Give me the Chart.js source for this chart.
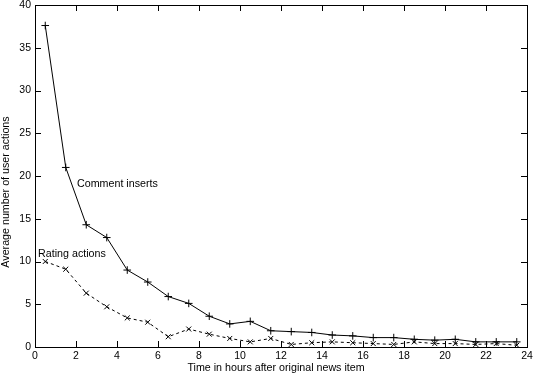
<!DOCTYPE html>
<html lang="en">
<head>
    <meta charset="UTF-8">
    <title>User actions after news item</title>
    <script src="https://cdn.jsdelivr.net/npm/chart.js"></script>
    <style>
        html, body { margin: 0; padding: 0; background: white; }
        #wrap { width: 537px; height: 380px; }
    </style>
</head>
<body>
    <div id="wrap"><canvas id="chart" width="537" height="380"></canvas></div>
    <script>
        // hours after the news item (bin centres)
        const hours = [0.5, 1.5, 2.5, 3.5, 4.5, 5.5, 6.5, 7.5, 8.5, 9.5, 10.5, 11.5,
                       12.5, 13.5, 14.5, 15.5, 16.5, 17.5, 18.5, 19.5, 20.5, 21.5, 22.5, 23.5];
        const commentInserts = [37.6, 21.0, 14.3, 12.8, 9.0, 7.6, 5.9, 5.1, 3.6, 2.7, 3.0, 1.9,
                                1.8, 1.7, 1.4, 1.3, 1.1, 1.1, 0.9, 0.8, 0.9, 0.6, 0.6, 0.6];
        const ratingActions = [10.0, 9.1, 6.3, 4.7, 3.4, 2.9, 1.2, 2.1, 1.5, 1.0, 0.6, 1.0,
                               0.3, 0.5, 0.6, 0.5, 0.4, 0.3, 0.6, 0.4, 0.4, 0.3, 0.4, 0.2];
        const xTicks = [0, 2, 4, 6, 8, 10, 12, 14, 16, 18, 20, 22, 24];
        const yTicks = [0, 5, 10, 15, 20, 25, 30, 35, 40];

        const font = 'Liberation Sans, Arial, Helvetica, sans-serif';
        Chart.defaults.font.family = font;
        Chart.defaults.font.size = 10.5;
        Chart.defaults.color = '#000';

        const toPoints = vals => vals.map((v, i) => ({ x: hours[i], y: v }));

        // gnuplot style frame with inward ticks, axis titles and line labels
        const framePlugin = {
            id: 'frame',
            afterDraw(chart) {
                const c = chart.ctx;
                const a = chart.chartArea;
                const xs = chart.scales.x, ys = chart.scales.y;
                c.save();
                c.strokeStyle = '#000';
                c.lineWidth = 1;
                c.strokeRect(Math.round(a.left) + 0.5, Math.round(a.top) + 0.5,
                    Math.round(a.right - a.left), Math.round(a.bottom - a.top));
                c.beginPath();
                xTicks.forEach(t => {
                    const px = Math.round(xs.getPixelForValue(t)) + 0.5;
                    c.moveTo(px, a.bottom); c.lineTo(px, a.bottom - 6);
                    c.moveTo(px, a.top); c.lineTo(px, a.top + 6);
                });
                yTicks.forEach(t => {
                    const py = Math.round(ys.getPixelForValue(t)) + 0.5;
                    c.moveTo(a.left, py); c.lineTo(a.left + 6, py);
                    c.moveTo(a.right, py); c.lineTo(a.right - 6, py);
                });
                c.stroke();

                c.fillStyle = '#000';
                c.font = '10.7px ' + font;
                c.textBaseline = 'middle';
                c.textAlign = 'left';
                c.fillText('Comment inserts', xs.getPixelForValue(2.05), ys.getPixelForValue(19.0));
                c.fillText('Rating actions', xs.getPixelForValue(0.15), ys.getPixelForValue(10.9));

                c.textAlign = 'center';
                c.fillText('Time in hours after original news item', 276, 368);
                c.translate(6, 192);
                c.rotate(-Math.PI / 2);
                c.fillText('Average number of user actions', 0, 0);
                c.restore();
            }
        };

        new Chart(document.getElementById('chart'), {
            type: 'line',
            data: {
                datasets: [
                    {
                        label: 'Comment inserts',
                        data: toPoints(commentInserts),
                        borderColor: '#000',
                        borderWidth: 1,
                        pointStyle: 'cross',
                        pointRadius: 3.8,
                        pointBorderColor: '#000',
                        pointBorderWidth: 1,
                        fill: false,
                        tension: 0
                    },
                    {
                        label: 'Rating actions',
                        data: toPoints(ratingActions),
                        borderColor: '#000',
                        borderWidth: 1,
                        borderDash: [3, 3],
                        pointStyle: 'crossRot',
                        pointRadius: 3.5,
                        pointBorderColor: '#000',
                        pointBorderWidth: 1,
                        fill: false,
                        tension: 0
                    }
                ]
            },
            options: {
                responsive: false,
                animation: false,
                layout: { padding: { top: 4, right: 10, left: 0, bottom: 0 } },
                plugins: { legend: { display: false }, tooltip: { enabled: false } },
                scales: {
                    x: {
                        type: 'linear',
                        min: 0, max: 24,
                        afterBuildTicks: s => { s.ticks = xTicks.map(v => ({ value: v })); },
                        afterFit: s => { s.height = 33; s.paddingLeft = 0; s.paddingRight = 0; },
                        grid: { display: false, drawTicks: false },
                        border: { display: false },
                        ticks: { padding: 3, maxRotation: 0, autoSkip: false }
                    },
                    y: {
                        type: 'linear',
                        min: 0, max: 40,
                        afterBuildTicks: s => { s.ticks = yTicks.map(v => ({ value: v })); },
                        afterFit: s => { s.width = 35; s.paddingTop = 0; s.paddingBottom = 0; },
                        grid: { display: false, drawTicks: false },
                        border: { display: false },
                        ticks: { padding: 4, autoSkip: false }
                    }
                }
            },
            plugins: [framePlugin]
        });
    </script>
</body>
</html>
